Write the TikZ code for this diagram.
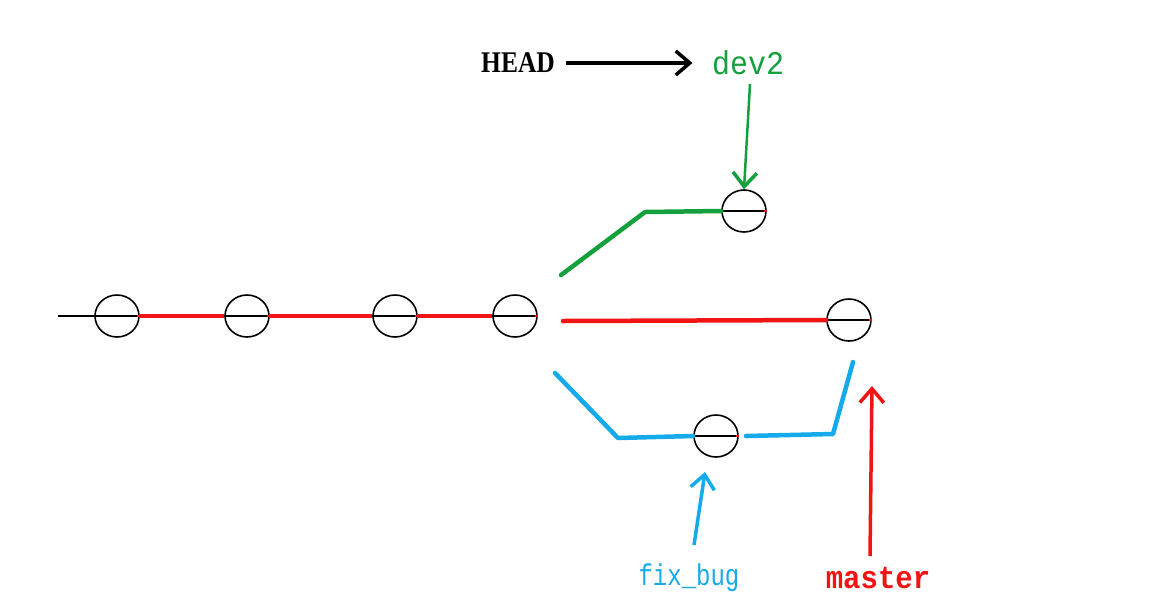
\documentclass[tikz,border=0pt]{standalone}
\usepackage{fontspec}
\setmainfont{Liberation Serif}
\newfontfamily\monofont{Liberation Mono}
\usetikzlibrary{arrows.meta,shapes.geometric}
\definecolor{gred}{RGB}{240,20,20}
\definecolor{ggreen}{RGB}{20,160,60}
\definecolor{gblue}{RGB}{20,170,235}
\tikzset{
  commit/.style={draw=black, line width=1.6pt, ellipse, minimum width=44pt, minimum height=42pt, inner sep=0pt},
  branchline/.style={line width=4.5pt, line cap=round, line join=round},
  ptr/.style={line width=3.5pt, -{Straight Barb[length=14pt,width=24pt,line width=3.5pt]}},
}
\begin{document}
\begin{tikzpicture}[x=1pt,y=-1pt]
\useasboundingbox (0,0) rectangle (1167,606);
% commits
\foreach \n/\x/\y in {c1/117/316, c2/247/316, c3/395/316, c4/515/316, d1/744/211, m1/849/320, f1/716/436}{
  \node[commit] (\n) at (\x,\y) {};
  \draw[black, line width=1.5pt] (\n.west) -- ([xshift=-3pt]\n.east);
  \draw[gred, line width=2pt] ([xshift=-3pt]\n.east) -- (\n.east);
}
\coordinate (start) at (58,316);
\draw[black, line width=1.8pt] (start) -- (c1.west);
\draw[gred, line width=4pt] (c1.east) -- (c2.west);
\draw[gred, line width=4pt] (c2.east) -- (c3.west);
\draw[gred, line width=4pt] (c3.east) -- (c4.west);
% branches
\coordinate (gs) at (561,275);
\coordinate (gb) at (645,212);
\draw[branchline, ggreen] (gs) -- (gb) -- (d1.west);
\coordinate (rs) at (563,321);
\draw[branchline, gred] (rs) -- (m1.west);
\coordinate (bs) at (555,373);
\coordinate (bb) at (618,438);
\draw[branchline, gblue] (bs) -- (bb) -- (f1.west);
\coordinate (fa) at (746,436);
\coordinate (fb) at (833,434);
\coordinate (fc) at (853,362);
\draw[branchline, gblue] (fa) -- (fb) -- (fc);
% labels
\node[font=\fontsize{30}{32}\selectfont\bfseries, xscale=0.85] (head) at (518,63) {HEAD};
\node[font=\monofont\fontsize{30}{32}\selectfont, text=ggreen, yscale=1.1] (dev2) at (748,63) {dev2};
\node[font=\monofont\fontsize{24}{26}\selectfont, text=gblue, yscale=1.25] (fix) at (689,578) {fix\_bug};
\node[font=\monofont\bfseries\fontsize{29}{31}\selectfont, text=gred, yscale=1.1] (master) at (878,578) {master};
% pointers
\draw[ptr, black] ([xshift=8pt]head.east) -- ([xshift=-16pt]dev2.west);
\draw[ptr, ggreen, line width=2.5pt] (750,84) coordinate (dv) -- (d1.north);
\coordinate (fx) at (694,545);
\coordinate (ft) at (705,472);
\draw[ptr, gblue] (fx) -- (ft);
\coordinate (mx) at (870,556);
\coordinate (mt) at (872,386);
\draw[ptr, gred] (mx) -- (mt);
\end{tikzpicture}
\end{document}
